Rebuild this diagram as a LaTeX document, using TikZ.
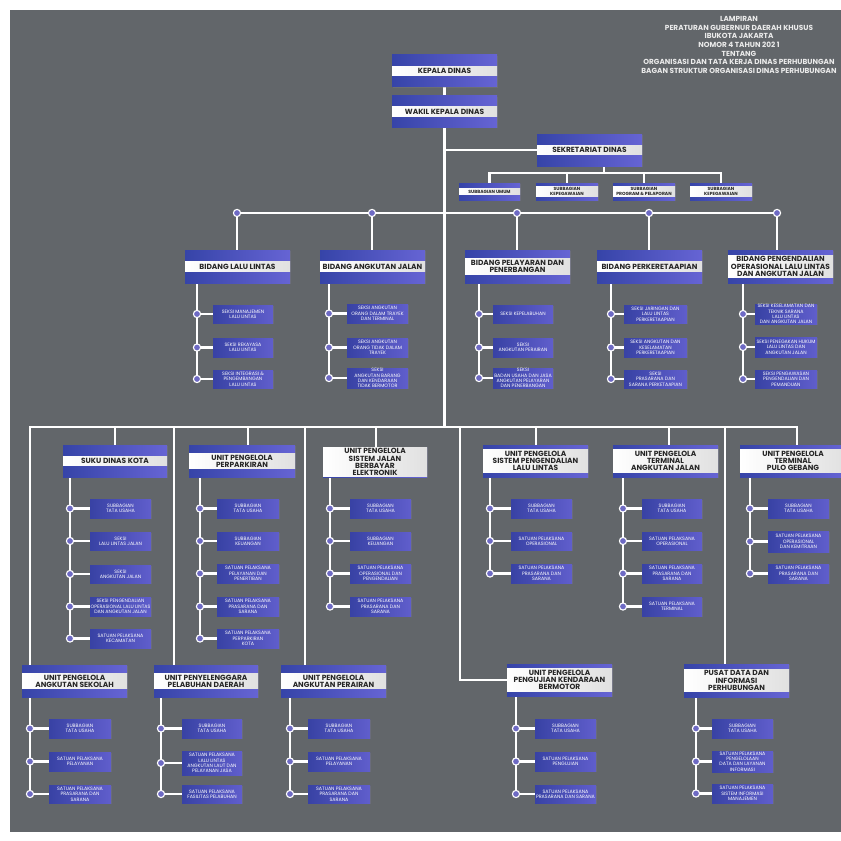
\documentclass[tikz,border=0pt]{standalone}
\usepackage{fontspec}
\setmainfont{Poppins}
\usetikzlibrary{shadows}
\pgfdeclarelayer{bg}
\pgfsetlayers{bg,main}
\definecolor{bgc}{RGB}{98,102,106}
\definecolor{bxa}{RGB}{54,68,168}
\definecolor{bxb}{RGB}{102,100,212}
\definecolor{sba}{RGB}{56,66,164}
\definecolor{sbb}{RGB}{96,94,204}
\definecolor{dotc}{RGB}{110,106,196}

\begin{document}
\begin{tikzpicture}[x=0.025cm,y=-0.025cm]
\tikzset{
    link/.style={white, line width=2pt},
    boxs/.style={left color=bxa, right color=bxb, inner sep=0pt,
        drop shadow={opacity=.35, shadow xshift=.6pt, shadow yshift=-.6pt}},
    band/.style={left color=white, right color=black!12, inner xsep=0pt, inner ysep=1.1pt,
        minimum height=6.8pt, align=center, text=black!85, font={\fontsize{5.3}{5.1}\selectfont\bfseries}},
    bandS/.style={band, inner ysep=.9pt, minimum height=4pt, font={\fontsize{3.2}{3.5}\selectfont\bfseries}},
    sbox/.style={left color=sba, right color=sbb, inner sep=0pt, align=center, text=white,
        font={\fontsize{3.4}{3.8}\selectfont},
        drop shadow={opacity=.35, shadow xshift=.5pt, shadow yshift=-.5pt}},
    dot/.style={circle, fill=dotc, draw=white, line width=.8pt, minimum size=.18cm, inner sep=0pt},
    lamp/.style={align=center, text=white!92!black, font={\fontsize{5.2}{6.1}\selectfont\bfseries}}}
\def\pu{0.025cm}
% header box: band style, name, x1, y1, x2, y2, text
\def\hdr#1#2#3#4#5#6#7{%
  \pgfmathsetlengthmacro\bw{(#5-#3)*\pu}%
  \pgfmathsetlengthmacro\bh{(#6-#4)*\pu}%
  \node[boxs, minimum width=\bw, minimum height=\bh] (#2) at ({(#3+#5)/2},{(#4+#6)/2}) {};
  \node[#1, minimum width=\bw] (#2t) at (#2.center) {#7};}
% sub box with its dot: name, rail x, x1, y1, x2, y2, text
\def\sbx#1#2#3#4#5#6#7{%
  \pgfmathsetlengthmacro\bw{(#5-#3)*\pu}%
  \pgfmathsetlengthmacro\bh{(#6-#4)*\pu}%
  \node[sbox, minimum width=\bw, minimum height=\bh] (#1) at ({(#3+#5)/2},{(#4+#6)/2}) {#7};
  \node[dot] (#1d) at (#2,{(#4+#6)/2}) {};
  \begin{pgfonlayer}{bg}\draw[link] (#1d.center) -- (#1.west);\end{pgfonlayer}}
\def\rail#1#2{\begin{pgfonlayer}{bg}\draw[link] (#1.south -| #2d) -- (#2d.center);\end{pgfonlayer}}

\useasboundingbox (0,0) rectangle (841,841);
\clip (0,0) rectangle (841,841);
\begin{pgfonlayer}{bg}
\fill[bgc] (10,10) rectangle (841,832);
\end{pgfonlayer}

\node[lamp] (lamp) at (739,45) {LAMPIRAN\\PERATURAN GUBERNUR DAERAH KHUSUS\\IBUKOTA JAKARTA\\NOMOR 4 TAHUN 202 1\\TENTANG\\ORGANISASI DAN TATA KERJA DINAS PERHUBUNGAN\\BAGAN STRUKTUR ORGANISASI DINAS PERHUBUNGAN};

% top
\hdr{band}{kd}{392}{55}{497}{87}{KEPALA DINAS}
\hdr{band}{wk}{392}{96}{497}{127}{WAKIL KEPALA DINAS}
\hdr{band}{sek}{537}{134}{642}{166}{SEKRETARIAT DINAS}
\hdr{bandS}{s1}{459}{183}{520}{200}{SUBBAGIAN UMUM}
\hdr{bandS}{s2}{536}{183}{598}{200}{SUBBAGIAN\\KEPEGAWAIAN}
\hdr{bandS}{s3}{613}{183}{675}{200}{SUBBAGIAN\\PROGRAM \& PELAPORAN}
\hdr{bandS}{s4}{690}{183}{752}{200}{SUBBAGIAN\\KEPEGAWAIAN}
\coordinate (sj) at (604,173);

% bidang
\node[dot] (b1) at (237,213) {};
\node[dot] (b2) at (372,213) {};
\node[dot] (b3) at (517,213) {};
\node[dot] (b4) at (649,213) {};
\node[dot] (b5) at (777,213) {};

\hdr{band}{bll}{185}{250}{290}{283}{BIDANG LALU LINTAS}
\sbx{bll1}{197}{213}{305}{273}{323}{SEKSI MANAJEMEN\\LALU LINTAS}
\sbx{bll2}{197}{213}{338}{273}{357}{SEKSI REKAYASA\\LALU LINTAS}
\sbx{bll3}{197}{213}{370}{273}{388}{SEKSI INTEGRASI \&\\PENGEMBANGAN\\LALU LINTAS}
\rail{bll}{bll3}

\hdr{band}{baj}{320}{250}{425}{283}{BIDANG ANGKUTAN JALAN}
\sbx{baj1}{329}{347}{304}{408}{323}{SEKSI ANGKUTAN\\ORANG DALAM TRAYEK\\DAN TERMINAL}
\sbx{baj2}{329}{347}{338}{408}{357}{SEKSI ANGKUTAN\\ORANG TIDAK DALAM\\TRAYEK}
\sbx{baj3}{329}{347}{368}{408}{388}{SEKSI\\ANGKUTAN BARANG\\DAN KENDARAAN\\TIDAK BERMOTOR}
\rail{baj}{baj3}

\hdr{band}{bpp}{465}{250}{570}{283}{BIDANG PELAYARAN DAN\\PENERBANGAN}
\sbx{bpp1}{479}{493}{305}{553}{323}{SEKSI KEPELABUHAN}
\sbx{bpp2}{479}{493}{338}{553}{357}{SEKSI\\ANGKUTAN PERAIRAN}
\sbx{bpp3}{479}{493}{368}{553}{388}{SEKSI\\BADAN USAHA DAN JASA\\ANGKUTAN PELAYARAN\\DAN PENERBANGAN}
\rail{bpp}{bpp3}

\hdr{band}{bpk}{597}{250}{702}{283}{BIDANG PERKERETAAPIAN}
\sbx{bpk1}{611}{624}{305}{687}{323}{SEKSI JARINGAN DAN\\LALU LINTAS\\PERKERETAAPIAN}
\sbx{bpk2}{611}{624}{338}{687}{357}{SEKSI ANGKUTAN DAN\\KESELAMATAN\\PERKERETAAPIAN}
\sbx{bpk3}{611}{624}{370}{687}{388}{SEKSI\\PRASARANA DAN\\SARANA PERKETAAPIAN}
\rail{bpk}{bpk3}

\hdr{band}{bpo}{728}{250}{833}{283}{BIDANG PENGENDALIAN\\OPERASIONAL LALU LINTAS\\DAN ANGKUTAN JALAN}
\sbx{bpo1}{743}{755}{304}{817}{324}{SEKSI KESELAMATAN DAN\\TEKNIK SARANA\\LALU LINTAS\\DAN ANGKUTAN JALAN}
\sbx{bpo2}{743}{755}{337}{817}{357}{SEKSI PENEGAKAN HUKUM\\LALU LINTAS DAN\\ANGKUTAN JALAN}
\sbx{bpo3}{743}{755}{370}{817}{388}{SEKSI PENGAWASAN\\PENGENDALIAN DAN\\PEMANDUAN}
\rail{bpo}{bpo3}

% unit row
\coordinate (q0) at (30,427);
\coordinate (q1) at (115,427);
\coordinate (q2) at (174,427);
\coordinate (q3) at (248,427);
\coordinate (q4) at (305,427);
\coordinate (q5) at (376,427);
\coordinate (q6) at (460,427);
\coordinate (q7) at (536,427);
\coordinate (q8) at (669,427);
\coordinate (q9) at (725,427);
\coordinate (qe) at (797,427);

\hdr{band}{skd}{63}{445}{167}{477}{SUKU DINAS KOTA}
\sbx{skd1}{70}{90}{499}{151}{518}{SUBBAGIAN\\TATA USAHA}
\sbx{skd2}{70}{90}{532}{151}{550}{SEKSI\\LALU LINTAS JALAN}
\sbx{skd3}{70}{90}{565}{151}{583}{SEKSI\\ANGKUTAN JALAN}
\sbx{skd4}{70}{90}{597}{151}{616}{SEKSI PENGENDALIAN\\OPERASIONAL LALU LINTAS\\DAN ANGKUTAN JALAN}
\sbx{skd5}{70}{90}{629}{151}{648}{SATUAN PELAKSANA\\KECAMATAN}
\rail{skd}{skd5}

\hdr{band}{upp}{189}{445}{295}{477}{UNIT PENGELOLA\\PERPARKIRAN}
\sbx{upp1}{200}{217}{499}{279}{518}{SUBBAGIAN\\TATA USAHA}
\sbx{upp2}{200}{217}{532}{279}{550}{SUBBAGIAN\\KEUANGAN}
\sbx{upp3}{200}{217}{564}{279}{583}{SATUAN PELAKSANA\\PELAYANAN DAN\\PENERTIBAN}
\sbx{upp4}{200}{217}{597}{279}{616}{SATUAN PELAKSANA\\PRASARANA DAN\\SARANA}
\sbx{upp5}{200}{217}{629}{279}{648}{SATUAN PELAKSANA\\PERPARKIRAN\\KOTA}
\rail{upp}{upp5}

\hdr{band}{ujb}{323}{447}{427}{477}{UNIT PENGELOLA\\SISTEM JALAN\\BERBAYAR\\ELEKTRONIK}
\sbx{ujb1}{330}{350}{499}{411}{518}{SUBBAGIAN\\TATA USAHA}
\sbx{ujb2}{330}{350}{532}{411}{550}{SUBBAGIAN\\KEUANGAN}
\sbx{ujb3}{330}{350}{564}{411}{583}{SATUAN PELAKSANA\\OPERASIONAL DAN\\PENGENDALIAN}
\sbx{ujb4}{330}{350}{597}{411}{616}{SATUAN PELAKSANA\\PRASARANA DAN\\SARANA}
\rail{ujb}{ujb4}

\hdr{band}{usp}{483}{445}{588}{477}{UNIT PENGELOLA\\SISTEM PENGENDALIAN\\LALU LINTAS}
\sbx{usp1}{490}{511}{499}{572}{518}{SUBBAGIAN\\TATA USAHA}
\sbx{usp2}{490}{511}{532}{572}{550}{SATUAN PELAKSANA\\OPERASIONAL}
\sbx{usp3}{490}{511}{564}{572}{583}{SATUAN PELAKSANA\\PRASARANA DAN\\SARANA}
\rail{usp}{usp3}

\hdr{band}{uta}{613}{445}{718}{477}{UNIT PENGELOLA\\TERMINAL\\ANGKUTAN JALAN}
\sbx{uta1}{623}{642}{499}{702}{518}{SUBBAGIAN\\TATA USAHA}
\sbx{uta2}{623}{642}{532}{702}{550}{SATUAN PELAKSANA\\OPERASIONAL}
\sbx{uta3}{623}{642}{564}{702}{583}{SATUAN PELAKSANA\\PRASARANA DAN\\SARANA}
\sbx{uta4}{623}{642}{597}{702}{616}{SATUAN PELAKSANA\\TERMINAL}
\rail{uta}{uta4}

\hdr{band}{upg}{740}{445}{846}{477}{UNIT PENGELOLA\\TERMINAL\\PULO GEBANG}
\sbx{upg1}{750}{768}{499}{829}{518}{SUBBAGIAN\\TATA USAHA}
\sbx{upg2}{750}{768}{531}{829}{552}{SATUAN PELAKSANA\\OPERASIONAL\\DAN KEMITRAAN}
\sbx{upg3}{750}{768}{564}{829}{583}{SATUAN PELAKSANA\\PRASARANA DAN\\SARANA}
\rail{upg}{upg3}

% bottom row
\hdr{band}{uas}{22}{665}{127}{697}{UNIT PENGELOLA\\ANGKUTAN SEKOLAH}
\sbx{uas1}{30}{49}{719}{111}{738}{SUBBAGIAN\\TATA USAHA}
\sbx{uas2}{30}{49}{752}{111}{771}{SATUAN PELAKSANA\\PELAYANAN}
\sbx{uas3}{30}{49}{785}{111}{803}{SATUAN PELAKSANA\\PRASARANA DAN\\SARANA}
\rail{uas}{uas3}

\hdr{band}{upd}{154}{665}{258}{697}{UNIT PENYELENGGARA\\PELABUHAN DAERAH}
\sbx{upd1}{161}{182}{719}{242}{738}{SUBBAGIAN\\TATA USAHA}
\sbx{upd2}{161}{182}{751}{242}{775}{SATUAN PELAKSANA\\LALU LINTAS\\ANGKUTAN LAUT DAN\\PELAYANAN JASA}
\sbx{upd3}{161}{182}{785}{242}{803}{SATUAN PELAKSANA\\FASILITAS PELABUHAN}
\rail{upd}{upd3}

\hdr{band}{uap}{281}{665}{386}{697}{UNIT PENGELOLA\\ANGKUTAN PERAIRAN}
\sbx{uap1}{290}{308}{719}{370}{738}{SUBBAGIAN\\TATA USAHA}
\sbx{uap2}{290}{308}{752}{370}{771}{SATUAN PELAKSANA\\PELAYANAN}
\sbx{uap3}{290}{308}{785}{370}{803}{SATUAN PELAKSANA\\PRASARANA DAN\\SARANA}
\rail{uap}{uap3}

\hdr{band}{ukb}{507}{664}{612}{696}{UNIT PENGELOLA\\PENGUJIAN KENDARAAN\\BERMOTOR}
\sbx{ukb1}{516}{535}{719}{596}{738}{SUBBAGIAN\\TATA USAHA}
\sbx{ukb2}{516}{535}{752}{596}{771}{SATUAN PELAKSANA\\PENGUJIAN}
\sbx{ukb3}{516}{535}{785}{596}{803}{SATUAN PELAKSANA\\PRASARANA DAN SARANA}
\rail{ukb}{ukb3}

\hdr{band}{pdi}{684}{664}{789}{697}{PUSAT DATA DAN\\INFORMASI\\PERHUBUNGAN}
\sbx{pdi1}{696}{712}{719}{773}{738}{SUBBAGIAN\\TATA USAHA}
\sbx{pdi2}{696}{712}{751}{773}{772}{SATUAN PELAKSANA\\PENGELOLAAN\\DATA DAN LAYANAN\\INFORMASI}
\sbx{pdi3}{696}{712}{784}{773}{803}{SATUAN PELAKSANA\\SISTEM INFORMASI\\MANAJEMEN}
\rail{pdi}{pdi3}

% connectors
\begin{pgfonlayer}{bg}
\draw[link] (kd.south) -- (wk.north);
\draw[link] (wk.south) -- (wk.south |- q0);
\draw[link] (sek.west) -- (sek.west -| wk.south);
\draw[link] (sek.south -| sj) -- (sj);
\draw[link] (s1.north) |- (sj) -| (s4.north);
\draw[link] (s2.north) -- (s2.north |- sj);
\draw[link] (s3.north) -- (s3.north |- sj);
\draw[link] (b1.center) -- (b5.center);
\draw[link] (b1.center) -- (b1.center |- bll.north);
\draw[link] (b2.center) -- (b2.center |- baj.north);
\draw[link] (b3.center) -- (b3.center |- bpp.north);
\draw[link] (b4.center) -- (b4.center |- bpk.north);
\draw[link] (b5.center) -- (b5.center |- bpo.north);
\draw[link] (q0 |- uas.north) -- (q0) -- (qe) -- (qe |- upg.north);
\draw[link] (q1) -- (q1 |- skd.north);
\draw[link] (q2) -- (q2 |- upd.north);
\draw[link] (q3) -- (q3 |- upp.north);
\draw[link] (q4) -- (q4 |- uap.north);
\draw[link] (q5) -- (q5 |- ujb.north);
\draw[link] (q6) |- (ukb.west);
\draw[link] (q7) -- (q7 |- usp.north);
\draw[link] (q8) -- (q8 |- uta.north);
\draw[link] (q9) -- (q9 |- pdi.north);
\end{pgfonlayer}
\end{tikzpicture}
\end{document}
